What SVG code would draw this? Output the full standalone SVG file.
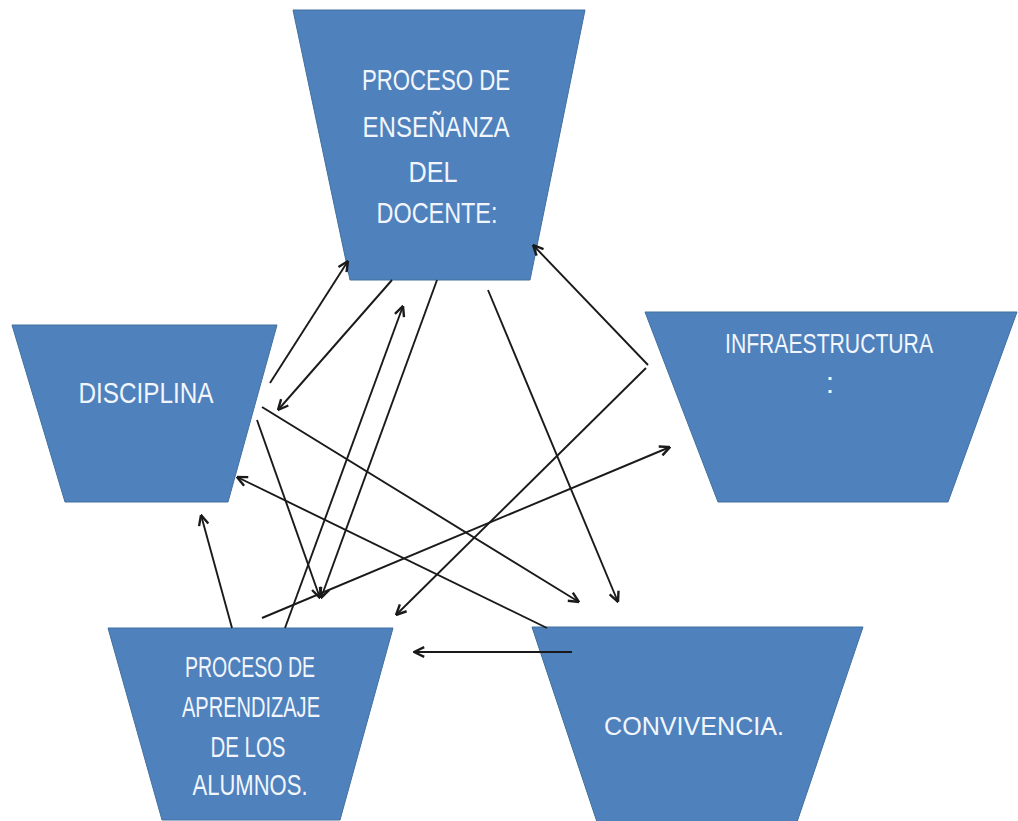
<svg xmlns="http://www.w3.org/2000/svg" width="1018" height="821" viewBox="0 0 1018 821">
<defs>
<style>
.shape{fill:#4F81BD;stroke:#41709F;stroke-width:1}
.lbl{fill:#F2F6FC;font-family:"Liberation Sans","DejaVu Sans",sans-serif;text-anchor:middle}
.con{stroke:#1A1A1A;stroke-width:1.9;fill:none;marker-end:url(#arr)}
</style>
<marker id="arr" viewBox="0 0 10 10" refX="9.5" refY="5" markerWidth="12" markerHeight="12" markerUnits="userSpaceOnUse" orient="auto">
<path d="M1,1 L9.5,5 L1,9" fill="none" stroke="#1A1A1A" stroke-width="2"/>
</marker>
</defs>
<rect width="1018" height="821" fill="#FFFFFF"/>
<g id="node-docente">
<polygon class="shape" points="293,10 585,10 530,280 350,280"/>
<text class="lbl" font-size="30" x="436" y="90" textLength="148" lengthAdjust="spacingAndGlyphs">PROCESO DE</text>
<text class="lbl" font-size="30" x="436" y="137" textLength="147" lengthAdjust="spacingAndGlyphs">ENSEÑANZA</text>
<text class="lbl" font-size="30" x="433" y="182" textLength="49" lengthAdjust="spacingAndGlyphs">DEL</text>
<text class="lbl" font-size="30" x="437" y="223" textLength="121" lengthAdjust="spacingAndGlyphs">DOCENTE:</text>
</g>
<g id="node-disciplina">
<polygon class="shape" points="12,325 277,325 228,502 65,502"/>
<text class="lbl" font-size="29" x="146" y="403" textLength="135" lengthAdjust="spacingAndGlyphs">DISCIPLINA</text>
</g>
<g id="node-infraestructura">
<polygon class="shape" points="645,312 1017,312 948,502 718,502"/>
<text class="lbl" font-size="28" x="829" y="353" textLength="208" lengthAdjust="spacingAndGlyphs">INFRAESTRUCTURA</text>
<text class="lbl" font-size="30" x="830" y="393">:</text>
</g>
<g id="node-aprendizaje">
<polygon class="shape" points="108,628 393,628 340,820 162,820"/>
<text class="lbl" font-size="30" x="250" y="677" textLength="130" lengthAdjust="spacingAndGlyphs">PROCESO DE</text>
<text class="lbl" font-size="30" x="251" y="717" textLength="138" lengthAdjust="spacingAndGlyphs">APRENDIZAJE</text>
<text class="lbl" font-size="30" x="248" y="757" textLength="75" lengthAdjust="spacingAndGlyphs">DE LOS</text>
<text class="lbl" font-size="30" x="250" y="795" textLength="115" lengthAdjust="spacingAndGlyphs">ALUMNOS.</text>
</g>
<g id="node-convivencia">
<polygon class="shape" points="532,627 863,627 796,825 598,825"/>
<text class="lbl" font-size="26" x="694" y="735" textLength="180" lengthAdjust="spacingAndGlyphs">CONVIVENCIA.</text>
</g>
<g id="connectors">
<line class="con" x1="270" y1="383" x2="348" y2="261"/>
<line class="con" x1="392" y1="280" x2="278" y2="410"/>
<line class="con" x1="437" y1="280" x2="321" y2="598"/>
<line class="con" x1="285" y1="628" x2="403" y2="306"/>
<line class="con" x1="488" y1="290" x2="618" y2="602"/>
<line class="con" x1="648" y1="365" x2="533" y2="245"/>
<line class="con" x1="646" y1="368" x2="396" y2="615"/>
<line class="con" x1="262" y1="407" x2="579" y2="602"/>
<line class="con" x1="257" y1="420" x2="320" y2="598"/>
<line class="con" x1="547" y1="628" x2="237" y2="477"/>
<line class="con" x1="262" y1="618" x2="670" y2="447"/>
<line class="con" x1="232" y1="628" x2="201" y2="515"/>
<line class="con" x1="572" y1="652" x2="414" y2="652"/>
</g>
</svg>
